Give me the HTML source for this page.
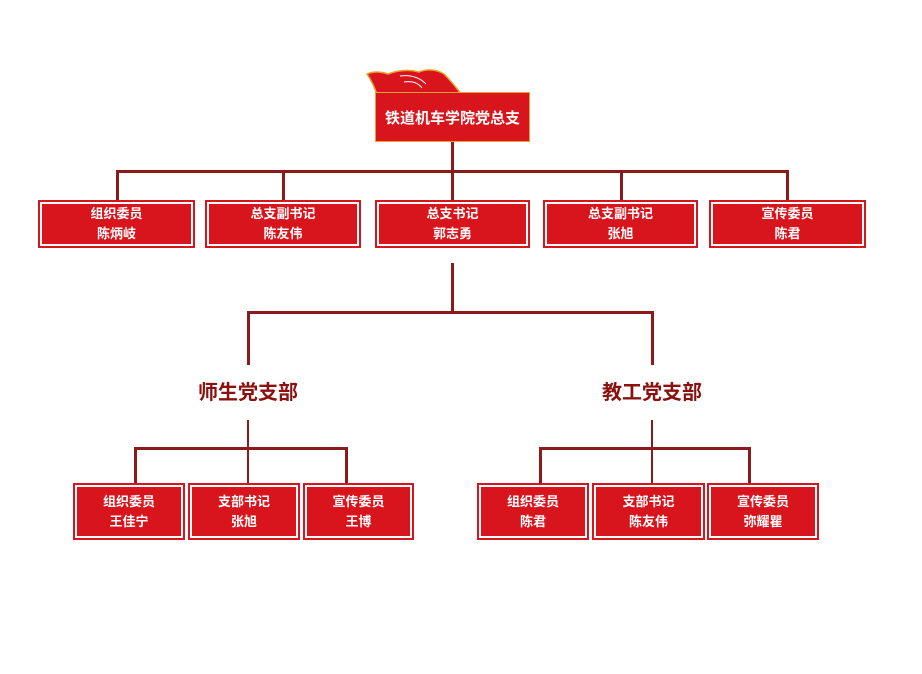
<!DOCTYPE html>
<html><head><meta charset="utf-8"><style>
body{margin:0;width:922px;height:674px;background:#fff;position:relative;overflow:hidden;font-family:"Liberation Sans","Noto Sans CJK SC",sans-serif}
.b{position:absolute;border:2px solid #d8141c;box-sizing:border-box;background:#fff;padding:2px}
.b div{width:100%;height:100%;background:#d8141c;color:#fff;font-size:13px;font-weight:bold;display:flex;flex-direction:column;justify-content:center;align-items:center;line-height:20px}
.l{position:absolute;background:#8b1a1a}
.t{position:absolute;font-size:20px;font-weight:bold;color:#8b1010;width:160px;text-align:center}
</style></head><body>
<svg style="position:absolute;left:364px;top:64px" width="110" height="34"><path d="M3 10 Q12 6 24 10 Q40 4 55 8 Q68 3 80 10 Q88 18 94 26 L100 34 L14 34 Q10 20 3 10 Z" fill="#d8141c" stroke="#e8a030" stroke-width="1.5"/><path d="M36 12 Q52 10 62 20 M40 18 Q52 16 58 24" stroke="#fff" fill="none" stroke-width="1"/></svg>
<div style="position:absolute;left:375px;top:92px;width:155px;height:50px;background:#d8141c;border:1.5px solid #e8a030;box-sizing:border-box;color:#fff;font-weight:bold;font-size:15px;display:flex;align-items:center;justify-content:center">铁道机车学院党总支</div>
<div class="l" style="left:451px;top:142px;width:3px;height:58px"></div>
<div class="l" style="left:116px;top:170px;width:673px;height:3px"></div>
<div class="l" style="left:116px;top:170px;width:3px;height:30px"></div>
<div class="l" style="left:282px;top:170px;width:3px;height:30px"></div>
<div class="l" style="left:620px;top:170px;width:3px;height:30px"></div>
<div class="l" style="left:786px;top:170px;width:3px;height:30px"></div>
<div class="b" style="left:38px;top:200px;width:157px;height:48px"><div>组织委员<span>陈炳岐</span></div></div>
<div class="b" style="left:205px;top:200px;width:156px;height:48px"><div>总支副书记<span>陈友伟</span></div></div>
<div class="b" style="left:375px;top:200px;width:155px;height:48px"><div>总支书记<span>郭志勇</span></div></div>
<div class="b" style="left:543px;top:200px;width:155px;height:48px"><div>总支副书记<span>张旭</span></div></div>
<div class="b" style="left:709px;top:200px;width:157px;height:48px"><div>宣传委员<span>陈君</span></div></div>
<div class="l" style="left:451px;top:263px;width:3px;height:50px"></div>
<div class="l" style="left:247px;top:311px;width:407px;height:3px"></div>
<div class="l" style="left:247px;top:311px;width:3px;height:54px"></div>
<div class="l" style="left:651px;top:311px;width:3px;height:54px"></div>
<div class="t" style="left:168px;top:376px">师生党支部</div>
<div class="t" style="left:572px;top:376px">教工党支部</div>
<div class="l" style="left:247px;top:420px;width:2px;height:64px"></div>
<div class="l" style="left:134px;top:447px;width:214px;height:3px"></div>
<div class="l" style="left:134px;top:447px;width:3px;height:37px"></div>
<div class="l" style="left:345px;top:447px;width:3px;height:37px"></div>
<div class="b" style="left:73px;top:483px;width:112px;height:57px"><div>组织委员<span>王佳宁</span></div></div>
<div class="b" style="left:188px;top:483px;width:112px;height:57px"><div>支部书记<span>张旭</span></div></div>
<div class="b" style="left:303px;top:483px;width:111px;height:57px"><div>宣传委员<span>王博</span></div></div>
<div class="l" style="left:651px;top:420px;width:2px;height:64px"></div>
<div class="l" style="left:539px;top:447px;width:212px;height:3px"></div>
<div class="l" style="left:539px;top:447px;width:3px;height:37px"></div>
<div class="l" style="left:748px;top:447px;width:3px;height:37px"></div>
<div class="b" style="left:477px;top:483px;width:112px;height:57px"><div>组织委员<span>陈君</span></div></div>
<div class="b" style="left:592px;top:483px;width:113px;height:57px"><div>支部书记<span>陈友伟</span></div></div>
<div class="b" style="left:707px;top:483px;width:112px;height:57px"><div>宣传委员<span>弥耀瞿</span></div></div>
</body></html>
